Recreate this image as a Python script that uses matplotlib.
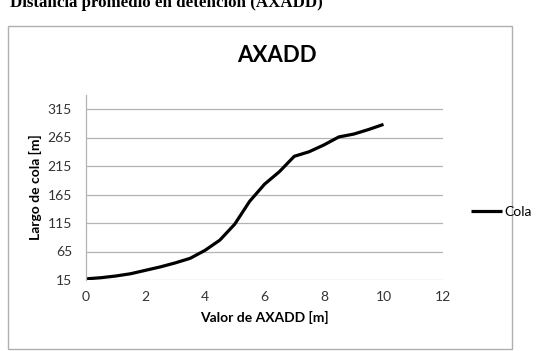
import matplotlib
matplotlib.use('Agg')
import matplotlib.pyplot as plt
from matplotlib.patches import Rectangle

# Data
axadd = [0, 0.5, 1, 1.5, 2, 2.5, 3, 3.5, 4, 4.5, 5,
         5.5, 6, 6.5, 7, 7.5, 8, 8.5, 9, 9.5, 10]
cola = [17, 19, 22, 26, 32, 38, 45, 53, 67, 85, 113,
        153, 183, 205, 232, 240, 252, 266, 271, 279, 288]
xticks = [0, 2, 4, 6, 8, 10, 12]
yticks = [15, 65, 115, 165, 215, 265, 315]

W, H = 557, 351
grid_color = '#b3b3b3'

plt.rcParams['font.family'] = ['Lato', 'DejaVu Sans']

fig = plt.figure(figsize=(W / 100, H / 100), dpi=100)

# header text from the page, cut at the top like in the reference
fig.text(10 / W, 1 - 7 / H, 'Distancia promedio en detención (AXADD)',
         family='Liberation Serif', weight='bold', fontsize=12.2,
         ha='left', va='baseline')

# chart frame
fig.add_artist(Rectangle((8 / W, 2 / H), (512 - 8) / W, (349 - 26) / H,
                         transform=fig.transFigure, fill=False,
                         edgecolor='#b0b0b0', linewidth=1))

ax = fig.add_axes([86 / W, 71 / H, (443 - 86) / W, (280 - 94.75) / H])
ax.plot(axadd, cola, color='black', linewidth=2.3, label='Cola',
        solid_capstyle='butt')

ax.set_xlim(0, 12)
ax.set_ylim(15, 340)
ax.set_xticks(xticks)
ax.set_yticks(yticks)
ax.tick_params(length=0, labelsize=10, colors='#333333')
ax.tick_params(axis='y', pad=10)
ax.tick_params(axis='x', pad=8)
ax.grid(axis='y', color=grid_color, linewidth=0.9)
ax.set_axisbelow(True)
for s in ['top', 'right', 'bottom']:
    ax.spines[s].set_visible(False)
ax.spines['left'].set_color(grid_color)
ax.spines['left'].set_linewidth(0.9)

ax.set_xlabel('Valor de AXADD [m]', fontsize=10, weight='bold', labelpad=6)
ax.set_ylabel('Largo de cola [m]', fontsize=10, weight='bold', labelpad=4)

fig.text(277 / W, 1 - 55 / H, 'AXADD', fontsize=16, weight='bold',
         ha='center', va='center')

fig.legend(loc='center left', bbox_to_anchor=(471 / W, 1 - 211.7 / H),
           frameon=False, fontsize=10, handlelength=2.2, handletextpad=0.2,
           borderaxespad=0, borderpad=0)

fig.savefig('out.png', dpi=100)
